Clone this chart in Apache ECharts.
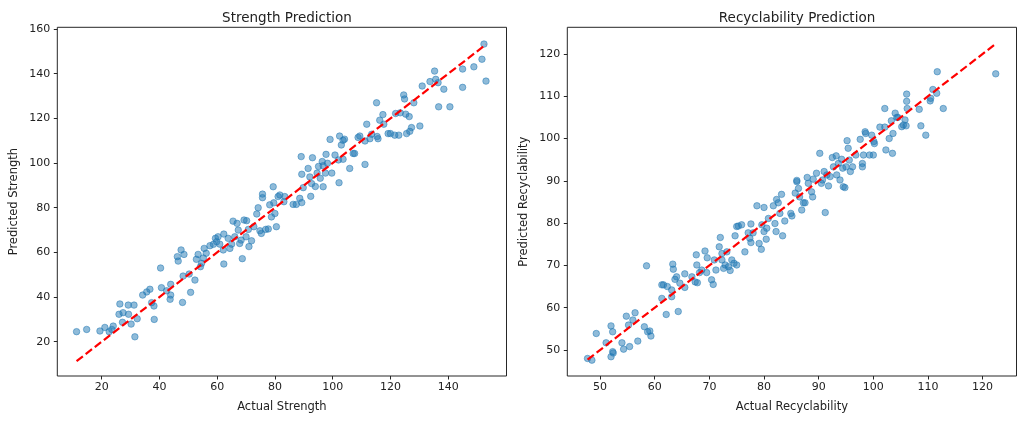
<!DOCTYPE html>
<html>
<head>
<meta charset="utf-8">
<script src="https://cdn.jsdelivr.net/npm/echarts@6/dist/echarts.min.js"></script>
<style>
html,body{margin:0;padding:0;background:#fff;}
#chart{width:1024px;height:422px;}
</style>
</head>
<body>
<div id="chart"></div>
<script>
// ---- Data: Strength (actual, predicted) ----
const strengthActual = [11.3,14.8,19.4,21.1,22.6,24.0,23.5,26.3,26.0,27.4,27.2,29.2,31.2,29.3,30.2,32.3,31.5,34.2,35.6,36.7,37.3,38.1,38.2,40.4,40.7,42.5,43.9,43.9,43.7,46.2,46.5,47.5,48.5,48.2,48.0,50.3,50.8,52.3,52.8,53.4,54.2,54.6,55.2,55.5,56.2,57.5,58.7,59.8,59.4,60.3,60.9,62.1,62.3,62.3,63.8,64.4,65.0,65.5,66.9,66.1,67.3,67.8,68.3,68.7,69.3,70.2,70.0,70.8,71.0,71.9,72.7,73.7,74.2,74.8,75.3,75.7,75.7,76.8,77.7,78.2,78.8,79.4,79.6,80.0,80.5,81.1,81.7,83.1,83.4,86.3,87.4,88.6,89.3,89.1,89.3,89.8,91.5,92.1,92.7,92.4,93.0,94.0,94.6,95.1,95.7,96.4,96.7,96.7,97.5,97.7,98.2,99.1,99.7,100.8,102.0,102.2,102.4,103.0,103.6,104.1,103.6,105.9,107.1,107.6,108.8,109.4,111.2,111.2,111.8,112.9,113.5,115.2,115.4,115.7,116.3,117.4,117.7,119.2,120.0,121.5,121.8,122.9,123.4,124.6,124.9,125.3,125.6,126.5,126.7,127.3,128.1,130.2,131.0,133.7,135.3,135.7,136.5,136.7,138.5,140.6,145.0,145.0,148.9,151.7,152.4,153.1];
const strengthPredicted = [24.5,25.5,24.8,26.4,24.5,27.0,25.5,36.9,32.3,33.0,28.7,36.4,36.4,32.3,27.9,30.3,22.2,40.9,42.3,43.5,37.5,36.0,30.0,53.0,44.2,42.8,45.7,40.9,39.0,58.1,56.1,61.1,59.1,49.4,37.6,50.3,42.1,47.6,56.9,59.1,53.6,55.1,57.5,61.8,59.6,63.0,63.6,64.8,66.3,67.0,63.7,61.1,68.2,54.8,66.3,61.8,63.7,74.0,73.0,67.0,70.0,64.0,65.5,57.2,74.5,74.2,67.0,70.3,62.6,65.2,71.5,77.2,80.0,69.7,68.5,86.1,84.5,70.3,70.5,81.3,75.9,89.4,82.2,77.4,71.5,85.0,85.7,82.7,85.0,81.5,81.5,84.2,82.3,102.9,95.0,89.0,97.6,93.8,90.8,85.1,102.4,89.5,95.5,98.5,93.2,100.7,98.8,89.4,95.5,103.9,99.9,110.6,95.5,103.6,101.4,91.2,112.1,108.1,110.2,110.7,101.7,97.6,104.3,104.3,111.5,112.1,99.4,109.9,117.4,110.9,112.9,127.0,111.9,110.9,119.2,121.7,117.4,113.2,113.2,112.5,122.2,112.5,122.5,130.5,128.7,121.9,113.2,120.8,114.2,115.9,127.0,116.6,134.5,136.5,141.2,137.5,136.0,125.2,133.1,125.2,142.1,133.9,143.1,146.5,153.3,136.7];

// ---- Data: Recyclability (actual, predicted) ----
const recycActual = [47.7,48.5,49.3,51.1,52.0,52.3,52.0,52.3,52.4,54.0,54.3,54.8,55.4,55.2,56.0,56.4,56.9,58.1,58.7,59.1,59.3,58.5,61.3,61.6,61.3,62.1,62.3,63.1,63.3,63.4,63.7,64.0,63.1,64.3,64.6,65.5,65.5,66.8,67.4,67.6,67.7,67.8,68.2,68.6,69.2,69.5,69.6,70.4,70.7,70.9,71.2,71.8,72.0,72.3,72.3,72.6,72.9,73.2,73.5,73.8,74.1,74.5,74.7,75.0,75.3,75.0,75.9,76.5,77.1,77.4,77.6,77.6,78.0,78.7,79.1,79.5,79.6,80.0,80.0,80.4,80.5,80.8,81.7,82.0,82.2,82.3,82.6,82.9,83.2,83.4,83.8,84.9,85.1,85.7,86.0,86.0,86.3,86.5,86.9,87.2,87.5,87.9,88.1,88.7,88.9,89.0,89.6,90.2,90.5,90.7,91.0,91.2,91.5,91.8,92.1,92.5,92.7,93.2,93.3,93.6,93.9,94.2,94.4,94.5,94.8,95.0,95.2,95.4,95.6,95.8,96.2,96.8,97.6,98.0,98.0,98.2,98.5,98.6,99.3,99.7,100.0,100.1,100.2,101.2,102.1,102.1,102.3,102.9,103.3,103.5,103.6,104.0,104.3,104.5,105.2,105.5,105.8,106.0,106.1,106.1,106.2,108.4,108.7,109.6,110.4,110.5,110.9,111.6,111.7,112.8,122.4];
const recycPredicted = [48.0,47.6,53.9,51.7,55.7,54.3,48.4,49.6,49.3,51.7,50.2,58.0,50.8,55.9,57.1,58.8,52.1,55.5,54.3,54.5,53.3,69.9,65.4,65.4,62.2,58.4,65.0,62.6,70.3,69.1,66.7,67.3,64.2,59.1,65.8,68.0,64.8,67.3,66.1,72.5,70.1,65.9,68.3,68.9,73.4,68.3,71.8,66.6,65.5,71.3,68.9,74.4,76.6,72.8,71.3,69.3,70.1,73.2,69.7,68.8,71.3,70.5,77.0,79.2,79.3,70.1,79.6,73.2,77.7,76.4,79.8,75.4,77.7,84.1,75.2,73.8,79.6,78.0,83.7,76.2,78.8,81.1,84.1,79.9,78.0,85.6,84.8,82.3,86.8,77.0,80.5,82.3,81.7,87.1,89.8,90.1,88.2,86.2,83.1,84.8,84.8,90.8,89.4,87.4,86.2,90.4,91.8,96.5,89.4,90.2,92.2,82.5,91.4,88.8,91.0,95.5,93.3,95.9,91.4,94.1,90.2,95.1,93.0,88.6,88.4,93.3,99.5,97.7,94.9,92.2,93.3,96.1,99.8,94.1,93.3,96.1,101.6,101.2,96.1,100.8,96.1,99.3,98.8,102.7,107.1,102.7,97.3,100.0,104.2,96.5,101.2,106.0,105.0,105.0,102.8,103.2,104.4,103.0,110.5,108.8,107.1,106.9,103.0,100.8,108.9,109.5,111.6,110.7,115.8,107.1,115.3];

// ---- Tick labels ----
const strengthXTicks = [20,40,60,80,100,120,140];
const strengthYTicks = [20,40,60,80,100,120,140,160];
const recycXTicks = [50,60,70,80,90,100,110,120];
const recycYTicks = [50,60,70,80,90,100,110,120];

const titles = ['Strength Prediction','Recyclability Prediction'];
const xNames = ['Actual Strength','Actual Recyclability'];
const yNames = ['Predicted Strength','Predicted Recyclability'];

function pairs(a, b){ return a.map((v,i)=>[v, b[i]]); }
function idealLine(a){ const lo=Math.min(...a), hi=Math.max(...a); return [[lo,lo],[hi,hi]]; }

const FONT = 'DejaVu Sans';
const TXT = '#222';
const AX = '#262626';

function xAxis(gi, min, max, ticks, name){
  return {
    type:'value', gridIndex:gi, min:min, max:max,
    name:name, nameLocation:'middle', nameGap:25,
    nameTextStyle:{fontFamily:FONT,fontSize:11.5,color:TXT},
    axisLine:{show:false},
    axisTick:{show:true, length:3.5, lineStyle:{color:AX,width:1}, customValues:ticks},
    axisLabel:{show:true, margin:6, fontFamily:FONT, fontSize:11, color:TXT, customValues:ticks},
    splitLine:{show:false}
  };
}
function yAxis(gi, min, max, ticks, name){
  return {
    type:'value', gridIndex:gi, min:min, max:max,
    name:name, nameLocation:'middle', nameGap:37, nameRotate:90,
    nameTextStyle:{fontFamily:FONT,fontSize:11.5,color:TXT},
    axisLine:{show:false},
    axisTick:{show:true, length:3.5, lineStyle:{color:AX,width:1}, customValues:ticks},
    axisLabel:{show:true, margin:7, fontFamily:FONT, fontSize:11, color:TXT, customValues:ticks},
    splitLine:{show:false}
  };
}

const scatterStyle = {color:'#1f77b4', opacity:0.5, borderColor:'#1f77b4', borderWidth:1};
const lineStyle = {color:'#ff0000', width:2.2, type:[8,3.5]};

const chart = echarts.init(document.getElementById('chart'), null, {renderer:'canvas'});
chart.setOption({
  animation:false,
  backgroundColor:'#ffffff',
  title:[
    {text:titles[0], left:282, top:6, textAlign:'center', textStyle:{fontFamily:FONT,fontSize:13.5,fontWeight:'normal',color:TXT}},
    {text:titles[1], left:792, top:6, textAlign:'center', textStyle:{fontFamily:FONT,fontSize:13.5,fontWeight:'normal',color:TXT}}
  ],
  grid:[
    {left:57.3, top:27.3, width:449.2, height:348.7, show:true, borderColor:AX, borderWidth:1, backgroundColor:'transparent'},
    {left:567.3, top:27.3, width:449.2, height:348.7, show:true, borderColor:AX, borderWidth:1, backgroundColor:'transparent'}
  ],
  xAxis:[
    xAxis(0, 4.63, 160.2, strengthXTicks, xNames[0]),
    xAxis(1, 44.0, 126.2, recycXTicks, xNames[1])
  ],
  yAxis:[
    yAxis(0, 4.65, 160.8, strengthYTicks, yNames[0]),
    yAxis(1, 43.85, 126.3, recycYTicks, yNames[1])
  ],
  series:[
    {type:'scatter', xAxisIndex:0, yAxisIndex:0, data:pairs(strengthActual,strengthPredicted), symbolSize:6.5, itemStyle:scatterStyle, silent:true},
    {type:'line', xAxisIndex:0, yAxisIndex:0, data:idealLine(strengthActual), symbol:'none', lineStyle:lineStyle, silent:true},
    {type:'scatter', xAxisIndex:1, yAxisIndex:1, data:pairs(recycActual,recycPredicted), symbolSize:6.5, itemStyle:scatterStyle, silent:true},
    {type:'line', xAxisIndex:1, yAxisIndex:1, data:idealLine(recycActual), symbol:'none', lineStyle:lineStyle, silent:true}
  ]
});
</script>
</body>
</html>
